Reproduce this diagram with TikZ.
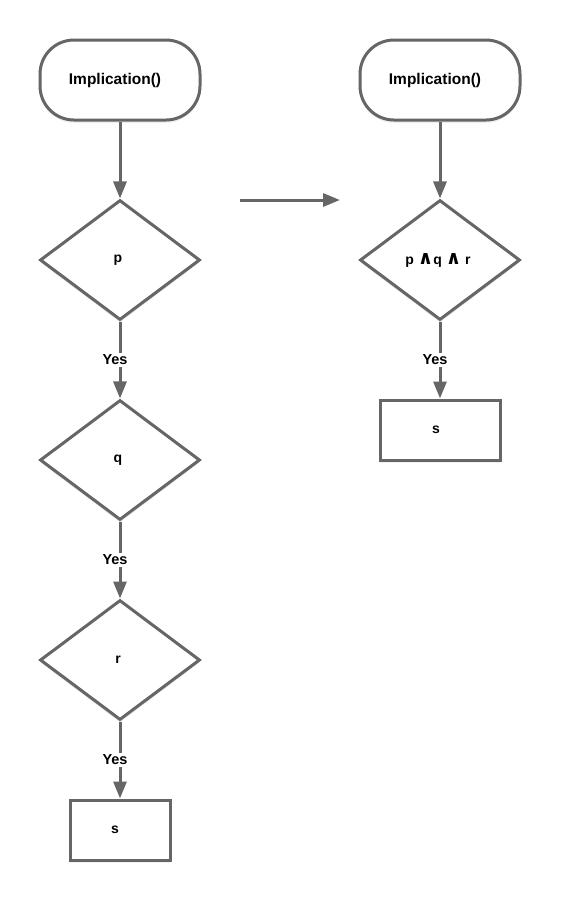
\documentclass[tikz,border=0pt]{standalone}
\usepackage{fontspec}
\setmainfont{Liberation Sans}
\newfontfamily\symfont{DejaVu Sans}
\usetikzlibrary{shapes.geometric,arrows.meta,shadows}
\definecolor{linegray}{HTML}{666666}
\tikzset{
  base/.style={draw=linegray, line width=3pt, fill=white, font=\bfseries\fontsize{14}{16}\selectfont, inner sep=0pt,
    drop shadow={opacity=0.12, shadow xshift=0pt, shadow yshift=-3pt}},
  terminal/.style={base, rectangle, rounded corners=34pt, minimum width=160pt, minimum height=80pt,
    font=\bfseries\fontsize{15.5}{18}\selectfont},
  decision/.style={base, diamond, aspect=1.3333, minimum width=160pt, minimum height=120pt},
  procbox/.style={base, rectangle, minimum height=60pt},
  arr/.style={draw=linegray, line width=3pt, -{Triangle[length=17pt,width=13pt]}},
  yes/.style={fill=white, inner sep=2pt, font=\bfseries\fontsize{14.5}{16}\selectfont, xshift=-5pt}
}
\newcommand{\landsym}{{\symfont\fontsize{19}{16}\selectfont ∧}}
\begin{document}
\begin{tikzpicture}[x=1pt,y=-1pt]
\useasboundingbox[fill=white] (0,0) rectangle (560,900);
% left column
\node[terminal] (t1) at (120,80) {Implication()\kern10pt};
\node[decision] (dp) at (120,260) {p\kern4pt};
\node[decision] (dq) at (120,460) {q\kern4pt};
\node[decision] (dr) at (120,660) {r\kern4pt};
\node[procbox, minimum width=100pt] (s1) at (120,830) {s\kern10pt};
% right column
\node[terminal] (t2) at (440,80) {Implication()\kern10pt};
\node[decision] (dpqr) at (440,260) {p \landsym q \landsym\ r\kern4pt};
\node[procbox, minimum width=120pt] (s2) at (440,430) {s\kern8pt};
% middle arrow
\coordinate (ma) at (240,200);
\coordinate (mb) at (340,200);
\draw[arr] (ma) -- (mb);
% connectors
\draw[arr] (t1) -- (dp);
\draw[arr] (dp) -- node[yes] {Yes} (dq);
\draw[arr] (dq) -- node[yes] {Yes} (dr);
\draw[arr] (dr) -- node[yes] {Yes} (s1);
\draw[arr] (t2) -- (dpqr);
\draw[arr] (dpqr) -- node[yes] {Yes} (s2);
\end{tikzpicture}
\end{document}
